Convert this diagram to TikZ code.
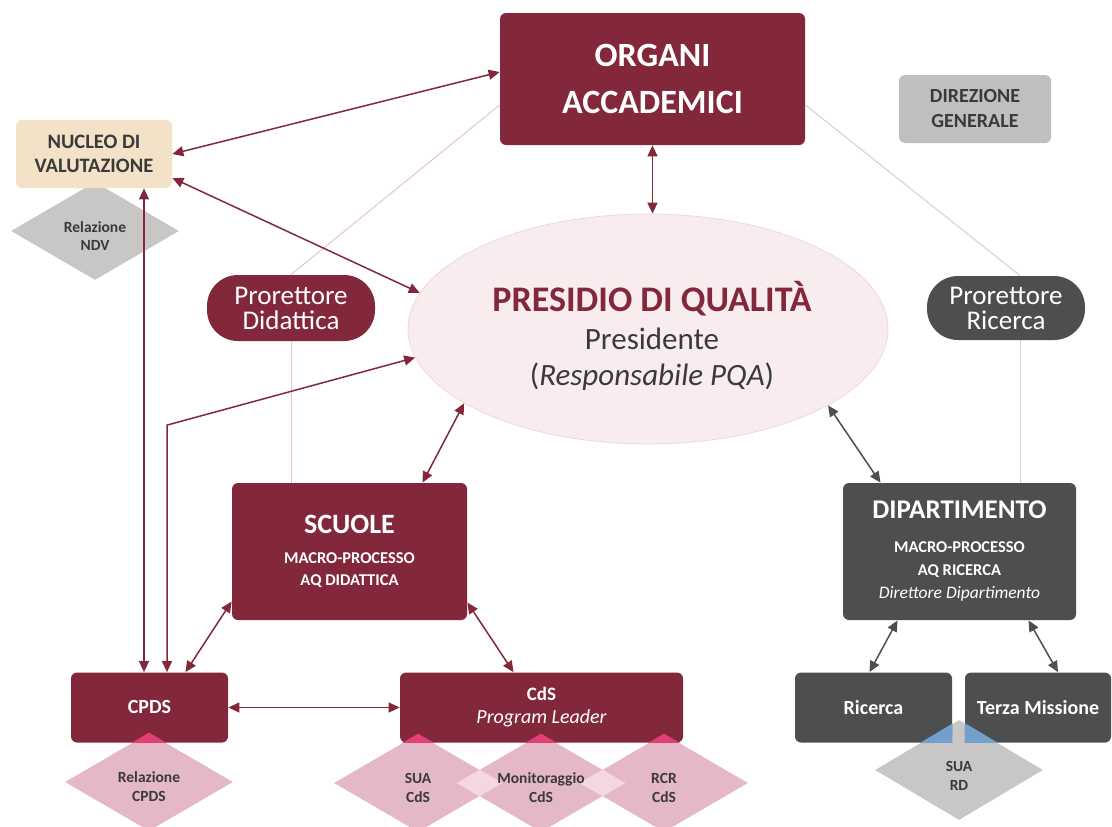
\documentclass[tikz,border=0pt]{standalone}
\usepackage{fontspec}
\setmainfont{Carlito}
\usetikzlibrary{arrows.meta,shapes.geometric}

\definecolor{pqared}{RGB}{131,40,58}
\definecolor{pqagrey}{RGB}{76,78,80}
\definecolor{pqasand}{RGB}{243,226,200}
\definecolor{pqasilver}{RGB}{191,191,191}
\definecolor{pqablush}{RGB}{249,236,238}
\definecolor{pqablushline}{RGB}{238,214,219}
\definecolor{pqapink}{RGB}{229,184,199}
\definecolor{pqapinklight}{RGB}{244,215,225}
\definecolor{pqahot}{RGB}{226,62,120}
\definecolor{pqastone}{RGB}{201,199,197}
\definecolor{pqasky}{RGB}{115,160,202}
\definecolor{pqaink}{RGB}{58,58,58}
\definecolor{pqafaintred}{RGB}{228,196,204}
\definecolor{pqafaintgrey}{RGB}{208,208,208}

\newcommand{\dpath}[1]{(#1.north) -- (#1.east) -- (#1.south) -- (#1.west) -- cycle}

\tikzset{every picture/.style={line width=0.75pt}}
\tikzset{
  redbox/.style={rectangle, rounded corners=6pt, inner sep=0pt, align=center, fill=pqared, text=white, font=\bfseries},
  greybox/.style={redbox, fill=pqagrey},
  pill/.style={rectangle, rounded corners=31pt, inner sep=0pt, align=center, text=white, font=\fontsize{27}{25}\selectfont},
  docshape/.style={diamond, aspect=1.7, inner sep=0pt, minimum width=168pt, minimum height=98pt},
  doctext/.style={align=center, inner sep=0pt, text=pqaink, font=\bfseries\fontsize{15.5}{19}\selectfont},
  rlink/.style={draw=pqared, line width=1.5pt, {Triangle[length=11pt,width=10pt]}-{Triangle[length=11pt,width=10pt]}},
  glink/.style={rlink, draw=pqagrey},
  faintred/.style={draw=pqafaintred, line width=1pt},
  faintgrey/.style={draw=pqafaintgrey, line width=1pt},
}

\begin{document}
\begin{tikzpicture}[x=1pt,y=1pt,yscale=-1,xscale=1]
\useasboundingbox (0,0) rectangle (1112,827);

%Shape: Ellipse
\node[ellipse, draw=pqablushline, fill=pqablush, minimum width=480pt, minimum height=230pt, inner sep=0pt] (presidio) at (648,329) {};

%Shape: Diamonds
\node[docshape, fill=pqastone] (relndv) at (95,231) {};
\node[docshape, fill=pqapink] (relcpds) at (149,782) {};
\node[docshape, fill=pqapink] (suacds) at (418,783) {};
\node[docshape, fill=pqapink] (moncds) at (541,783) {};
\node[docshape, fill=pqapink] (rcrcds) at (664,783) {};
\node[docshape, fill=pqastone, minimum height=100pt] (suard) at (959,770) {};

%Overlaps of the diamonds
\begin{scope}
\clip \dpath{suacds};
\fill[pqapinklight] \dpath{moncds};
\end{scope}
\begin{scope}
\clip \dpath{moncds};
\fill[pqapinklight] \dpath{rcrcds};
\end{scope}

%Shape: Rectangles
\node[redbox, minimum width=305pt, minimum height=132pt, font=\bfseries\fontsize{34}{47}\selectfont] (organi) at (652.5,79) {ORGANI\\ACCADEMICI};
\node[redbox, fill=pqasand, text=pqaink, minimum width=156pt, minimum height=68pt, font=\bfseries\fontsize{20.5}{24}\selectfont] (nucleo) at (94,154) {NUCLEO DI\\VALUTAZIONE};
\node[redbox, fill=pqasilver, text=pqaink, minimum width=152pt, minimum height=68pt, font=\bfseries\fontsize{20}{25}\selectfont] (direzione) at (975,109) {DIREZIONE\\GENERALE};
\node[pill, fill=pqared, minimum width=168pt, minimum height=66pt] (prod) at (291,308) {Prorettore\\Didattica};
\node[pill, fill=pqagrey, minimum width=158pt, minimum height=64pt] (pror) at (1006,308) {Prorettore\\Ricerca};
\node[redbox, minimum width=235pt, minimum height=137pt, font=\bfseries\fontsize{16.5}{22}\selectfont] (scuole) at (349.5,551.5) {{\fontsize{28}{30}\selectfont SCUOLE}\\[8pt]MACRO-PROCESSO\\AQ DIDATTICA};
\node[greybox, minimum width=233pt, minimum height=137pt, font=\bfseries\fontsize{16.5}{23}\selectfont] (dip) at (959.5,551.5) {{\fontsize{27}{30}\selectfont DIPARTIMENTO}\\[11pt]MACRO-PROCESSO\\AQ RICERCA\\{\mdseries\itshape\fontsize{17.5}{23}\selectfont Direttore Dipartimento}};
\node[redbox, minimum width=157pt, minimum height=70pt, font=\bfseries\fontsize{20}{24}\selectfont] (cpds) at (149.5,707.5) {CPDS};
\node[redbox, minimum width=283pt, minimum height=70pt, font=\bfseries\fontsize{19}{23}\selectfont] (cds) at (541.5,707.5) {CdS\\{\mdseries\itshape\fontsize{20}{23}\selectfont Program Leader}};
\node[greybox, minimum width=157pt, minimum height=70pt, font=\bfseries\fontsize{20}{24}\selectfont] (ricerca) at (873.5,707.5) {Ricerca};
\node[greybox, minimum width=146pt, minimum height=70pt, font=\bfseries\fontsize{20}{24}\selectfont] (terza) at (1038,707.5) {Terza Missione};

%Overlaps of diamonds and boxes
\begin{scope}
\clip (cpds.south west) rectangle (cpds.north east);
\fill[pqahot] \dpath{relcpds};
\end{scope}
\begin{scope}
\clip (cds.south west) rectangle (cds.north east);
\fill[pqahot] \dpath{suacds};
\fill[pqahot] \dpath{moncds};
\fill[pqahot] \dpath{rcrcds};
\end{scope}
\begin{scope}
\clip (ricerca.south west) rectangle (ricerca.north east) (terza.south west) rectangle (terza.north east);
\fill[pqasky] \dpath{suard};
\end{scope}

% Text Node
\node[align=center, text=pqaink, font=\fontsize{31}{36}\selectfont] (presidiotxt) at (652,336) {{\bfseries\color{pqared}\fontsize{36}{39}\selectfont PRESIDIO DI QUALITÀ}\\[2pt]Presidente\\(\textit{Responsabile PQA})};
% Text Node
\node[doctext, font=\bfseries\fontsize{15.5}{18}\selectfont] (ndvtxt) at ([yshift=5pt]relndv.center) {Relazione\\NDV};
% Text Node
\node[doctext] (relcpdstxt) at ([yshift=5pt]relcpds.center) {Relazione\\CPDS};
% Text Node
\node[doctext] (suacdstxt) at ([yshift=5pt]suacds.center) {SUA\\CdS};
% Text Node
\node[doctext] (moncdstxt) at ([yshift=5pt]moncds.center) {Monitoraggio\\CdS};
% Text Node
\node[doctext] (rcrcdstxt) at ([yshift=5pt]rcrcds.center) {RCR\\CdS};
% Text Node
\node[doctext] (suardtxt) at ([yshift=6pt]suard.center) {SUA\\RD};

%Straight Lines
\draw[faintred] ([yshift=26pt]organi.west) -- (prod.north);
\draw[faintred] (prod.south) -- (prod.south |- scuole.north);
\draw[faintgrey] ([yshift=26pt]organi.east) -- ([xshift=14pt]pror.north);
\draw[faintgrey] ([xshift=14pt]pror.south) -- ([xshift=14pt]pror.south |- dip.north);

%Arrows
\draw[rlink] ([yshift=-7pt]organi.west) -- (nucleo.east);
\draw[rlink] ([yshift=24pt]nucleo.east) -- (presidio.171);
\draw[rlink] (organi.south) -- (organi.south |- presidio.north);
\draw[rlink] ([xshift=-5.5pt]cpds.north) -- ([xshift=-5.5pt]cpds.north |- nucleo.south);
\draw[rlink] ([xshift=17.5pt]cpds.north) -- ++(0,-247) -- (presidio.187);
\draw[rlink] (presidio.202) -- ([xshift=73pt]scuole.north);
\draw[rlink] ([yshift=50pt]scuole.west) -- ([xshift=36pt]cpds.north);
\draw[rlink] ([yshift=51pt]scuole.east) -- ([xshift=-28pt]cds.north);
\draw[rlink] (cpds.east) -- (cds.west);
\draw[glink] (presidio.-23) -- ([xshift=-79pt]dip.north);
\draw[glink] ([xshift=-62pt]dip.south) -- ([xshift=-4pt]ricerca.north);
\draw[glink] ([xshift=69pt]dip.south) -- ([xshift=20pt]terza.north);

\end{tikzpicture}
\end{document}
